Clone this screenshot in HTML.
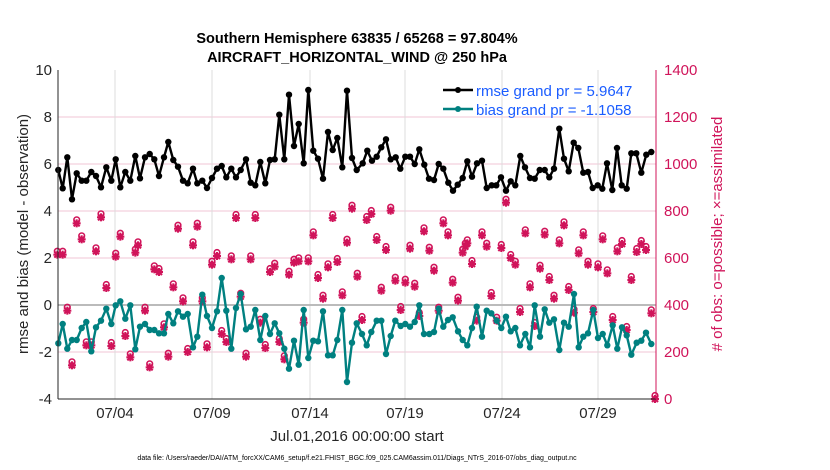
<!DOCTYPE html>
<html><head><meta charset="utf-8"><style>
body{margin:0;background:#fff;}
svg{display:block;font-family:"Liberation Sans",sans-serif;}
</style></head><body>
<svg id="s" width="830" height="470" viewBox="0 0 830 470" xmlns="http://www.w3.org/2000/svg">
<rect width="830" height="470" fill="#fff"/>
<g stroke="#f2c6d6" stroke-width="1">
<line x1="58" x2="656" y1="117" y2="117"/><line x1="58" x2="656" y1="164" y2="164"/>
<line x1="58" x2="656" y1="211" y2="211"/><line x1="58" x2="656" y1="258" y2="258"/>
<line x1="58" x2="656" y1="352" y2="352"/>
</g>
<g stroke="#dcdcdc" stroke-width="1">
<line x1="115" x2="115" y1="70" y2="399"/><line x1="212" x2="212" y1="70" y2="399"/>
<line x1="310" x2="310" y1="70" y2="399"/><line x1="405" x2="405" y1="70" y2="399"/>
<line x1="502" x2="502" y1="70" y2="399"/><line x1="598" x2="598" y1="70" y2="399"/>
</g>
<line x1="58" x2="656" y1="305" y2="305" stroke="#bbb" stroke-width="2"/>
<g id="data"></g>
<line x1="58" x2="58" y1="70" y2="399" stroke="#262626" stroke-width="1"/>
<line x1="58" x2="656" y1="399" y2="399" stroke="#262626" stroke-width="1"/>
<line x1="656" x2="656" y1="70" y2="399" stroke="#d0145a" stroke-width="1"/>
<g font-size="15" fill="#262626" text-anchor="end">
<text x="52" y="75">10</text><text x="52" y="122">8</text><text x="52" y="169">6</text>
<text x="52" y="216">4</text><text x="52" y="263">2</text><text x="52" y="310">0</text>
<text x="52" y="357">-2</text><text x="52" y="404">-4</text>
</g>
<g font-size="15" fill="#d0145a">
<text x="664" y="75">1400</text><text x="664" y="122">1200</text><text x="664" y="169">1000</text>
<text x="664" y="216">800</text><text x="664" y="263">600</text><text x="664" y="310">400</text>
<text x="664" y="357">200</text><text x="664" y="404">0</text>
</g>
<g font-size="15" fill="#262626" text-anchor="middle">
<text x="115" y="418">07/04</text><text x="212" y="418">07/09</text><text x="310" y="418">07/14</text>
<text x="405" y="418">07/19</text><text x="502" y="418">07/24</text><text x="598" y="418">07/29</text>
<text x="357" y="441">Jul.01,2016 00:00:00 start</text>
</g>
<text x="357" y="43" font-size="14.5" font-weight="bold" text-anchor="middle" fill="#000">Southern Hemisphere 63835 / 65268 = 97.804%</text>
<text x="357" y="62" font-size="14.5" font-weight="bold" text-anchor="middle" fill="#000">AIRCRAFT_HORIZONTAL_WIND @ 250 hPa</text>
<text transform="translate(28,234) rotate(-90)" font-size="15" text-anchor="middle" fill="#262626">rmse and bias (model - observation)</text>
<text transform="translate(722,234) rotate(-90)" font-size="15" text-anchor="middle" fill="#d0145a"># of obs: o=possible; ×=assimilated</text>
<text x="357" y="460" font-size="7" text-anchor="middle" fill="#000">data file: /Users/raeder/DAI/ATM_forcXX/CAM6_setup/f.e21.FHIST_BGC.f09_025.CAM6assim.011/Diags_NTrS_2016-07/obs_diag_output.nc</text>
<line x1="443" x2="473" y1="90" y2="90" stroke="#000" stroke-width="2.4"/><circle cx="458" cy="90" r="3" fill="#000"/>
<line x1="443" x2="473" y1="109" y2="109" stroke="#008080" stroke-width="2.4"/><circle cx="458" cy="109" r="3" fill="#008080"/>
<text x="476" y="96" font-size="15" fill="#1a5cff">rmse grand pr = 5.9647</text>
<text x="476" y="115" font-size="15" fill="#1a5cff">bias grand pr = -1.1058</text>
</svg>
<script>
var r1=[[25,330],[38,385],[52,292],[66,418],[80,340],[95,362],[109,362],[124,336],[138,348],[153,382],[169,322],[184,362],[197,298],[211,382],[226,336],[241,362],[256,288],[270,355],[285,292],[299,282],[313,298],[327,348],[342,292],[355,246],[370,300],[384,320],[399,362],[413,370],[429,326],[442,370],[457,362],[471,384],[486,354],[501,326],[515,318],[529,352],[544,326],[558,352],[572,330],[588,298],[602,368],[616,376],[631,306],[646,370],[660,300],[674,298],[688,164],[703,298],[717,104],[732,258],[746,192],[761,310],[775,90],[790,272],[804,296],[819,356],[834,216],[848,270],[862,234],[877,322],[891,92],[906,294],[920,330]];
var r2=[[38,310],[52,272],[66,302],[80,290],[94,262],[108,238],[122,298],[137,292],[151,326],[166,290],[180,290],[194,312],[208,268],[223,314],[237,356],[252,360],[266,312],[280,326],[295,368],[309,392],[323,374],[338,354],[352,304],[366,350],[381,310],[396,302],[410,384],[425,376],[439,376],[453,352],[468,392],[482,364],[496,376],[511,288],[525,322],[540,354],[554,356],[569,330],[584,330],[598,352],[612,326],[628,206],[642,296],[656,334],[671,248],[685,264],[700,338],[714,336],[728,384],[743,376],[757,386],[771,310],[787,390],[801,264],[815,376],[830,386],[844,280],[859,280],[874,338],[889,284],[904,276]];
var b1=[[25,850],[38,792],[52,866],[66,840],[80,840],[95,804],[109,786],[124,874],[138,802],[153,782],[169,746],[184,792],[197,736],[211,724],[226,776],[241,736],[256,868],[270,800],[285,792],[299,810],[313,810],[327,820],[342,820],[355,762],[370,790],[384,754],[399,770],[413,762],[429,862],[442,830],[457,704],[471,768],[486,804],[501,754],[515,654],[529,752],[544,866],[558,744],[572,702],[588,808],[602,800],[616,750],[631,840],[646,768],[660,822],[674,790],[688,820],[703,866],[717,926],[732,842],[746,914],[761,750],[775,894],[790,842],[804,844],[819,754],[834,886],[848,886],[862,840],[877,750],[891,966],[906,848],[920,790]];
var b2=[[36,822],[50,856],[64,816],[80,782],[94,782],[108,882],[122,828],[136,782],[152,798],[166,792],[180,800],[194,786],[208,736],[222,822],[238,822],[252,816],[266,746],[280,800],[294,780],[308,772],[324,814],[338,840],[352,856],[366,804],[380,740],[396,830],[410,752],[424,760],[440,782],[454,804],[468,770],[482,814],[496,804],[510,856],[526,822],[540,862],[554,736],[570,830],[584,748],[598,788],[612,778],[628,870],[642,788],[656,800],[672,702],[686,862],[700,830],[714,820],[730,750],[744,834],[758,822],[772,856],[788,796],[802,866],[816,802],[830,826],[844,884],[860,848],[874,842],[888,818],[904,852]];
var p1=[[22,584],[38,584],[52,752],[66,916],[80,490],[95,538],[109,856],[124,856],[138,574],[153,472],[169,684],[184,858],[197,590],[211,530],[226,828],[241,892],[256,578],[264,556],[285,752],[299,922],[313,628],[327,636],[342,802],[355,890],[370,682],[384,506],[399,724],[413,876],[429,556],[442,500],[457,724],[471,862],[486,614],[501,588],[515,822],[529,846],[544,598],[558,474],[572,710],[588,890],[602,598],[616,474],[631,788],[646,864],[660,636],[674,620],[688,846],[703,898],[717,644],[732,608],[746,604],[761,788],[775,604],[790,526],[804,654],[819,716],[834,622],[848,474],[862,606],[877,706],[891,548],[906,446]];
var p2=[[22,650],[36,780],[50,480],[64,462],[80,540],[94,692],[108,570],[122,452],[136,662],[152,750],[166,668],[180,566],[194,680],[208,768],[222,514],[238,572],[252,632],[266,752],[280,490],[294,526],[308,668],[324,722],[338,578],[346,560],[352,550],[366,612],[380,782],[396,526],[410,560],[424,708],[440,782],[454,564],[468,428],[482,594],[496,614],[510,756],[526,520],[540,682],[554,798],[570,626],[584,524],[598,660],[612,716],[628,550],[642,496],[656,690],[672,758],[686,580],[700,526],[714,614],[730,756],[744,622],[758,538],[772,640],[788,780],[802,574],[816,552],[830,810],[844,660],[860,576],[874,552],[888,570],[904,760]];
function cv(a,ox,oy){return a.map(function(p){return [ox+p[0]/3,oy+p[1]/3];});}
var R=cv(r1,50,60).concat(cv(r2,350,60)),B=cv(b1,50,60).concat(cv(b2,350,60)),P=cv(p1,50,60).concat(cv(p2,350,60));
P.push([655,399]);
var h='';
function line(a,c){h+='<polyline fill="none" stroke="'+c+'" stroke-width="2.4" stroke-linejoin="round" points="'+a.map(function(p){return p[0].toFixed(1)+','+p[1].toFixed(1);}).join(' ')+'"/>';
a.forEach(function(p){h+='<circle cx="'+p[0].toFixed(1)+'" cy="'+p[1].toFixed(1)+'" r="3.2" fill="'+c+'"/>';});}
P.forEach(function(p){var x=p[0],y=p[1];
h+='<circle cx="'+x.toFixed(1)+'" cy="'+(y-3.5).toFixed(1)+'" r="2.8" fill="none" stroke="#d0145a" stroke-width="1.6"/>';
h+='<g stroke="#d0145a" stroke-width="2.1"><line x1="'+(x-4)+'" x2="'+(x+4)+'" y1="'+y+'" y2="'+y+'"/><line x1="'+x+'" x2="'+x+'" y1="'+(y-4)+'" y2="'+(y+4)+'"/><line x1="'+(x-3)+'" x2="'+(x+3)+'" y1="'+(y-3)+'" y2="'+(y+3)+'"/><line x1="'+(x-3)+'" x2="'+(x+3)+'" y1="'+(y+3)+'" y2="'+(y-3)+'"/></g>';});
line(R,'#000');line(B,'#008080');
document.getElementById('data').innerHTML=h;
</script>
</body></html>
